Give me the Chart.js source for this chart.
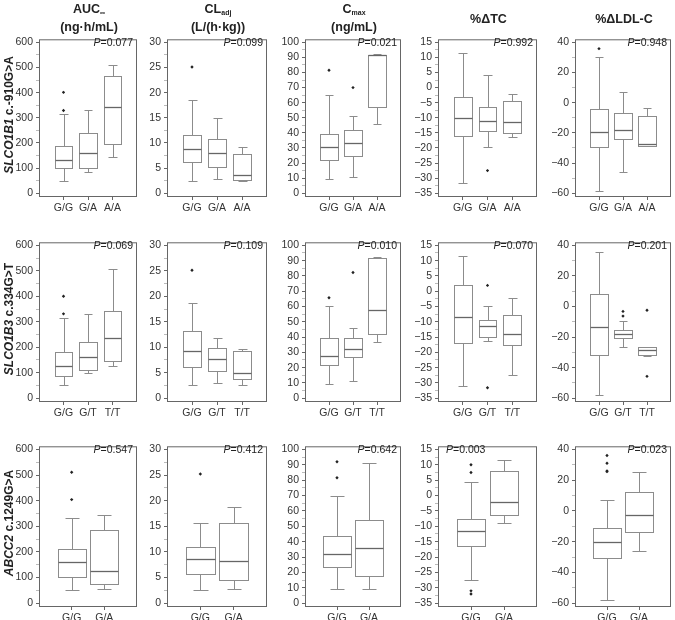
<!DOCTYPE html>
<html>
<head>
<meta charset="utf-8">
<script src="https://cdn.jsdelivr.net/npm/chart.js@4.4.1/dist/chart.umd.min.js"></script>
<style>
  body { margin: 0; background: #fff; font-family: "Liberation Sans", Arial, sans-serif; }
  #wrap { position: relative; width: 675px; height: 620px; overflow: hidden; }
  canvas { position: absolute; }
  .title { position: absolute; font-weight: bold; font-size: 12.5px; line-height: 15px; text-align: center; color: #222; white-space: nowrap; transform: translateX(-50%); }
  .title sub { font-size: 7px; vertical-align: -2px; }
  .rowlab { position: absolute; font-weight: bold; font-size: 12px; color: #222; white-space: nowrap; transform: translate(-50%, -50%) rotate(-90deg); }
  .pval { position: absolute; font-size: 10.5px; color: #222; white-space: nowrap; }
</style>
</head>
<body>
<div id="wrap"></div>
<script>
// categories (genotypes) per row
const catsRow1 = ['G/G', 'G/A', 'A/A'];
const catsRow2 = ['G/G', 'G/T', 'T/T'];
const catsRow3 = ['G/G', 'G/A'];

// tick labels per measure
const aucTicks = [0, 100, 200, 300, 400, 500, 600];
const clTicks = [0, 5, 10, 15, 20, 25, 30];
const cmaxTicks = [0, 10, 20, 30, 40, 50, 60, 70, 80, 90, 100];
const tcTicks = [-35, -30, -25, -20, -15, -10, -5, 0, 5, 10, 15];
const ldlTicks = [-60, -40, -20, 0, 20, 40];

// boxes: [low whisker, Q1, median, Q3, high whisker]
// row 1: SLCO1B1 c.-910G>A
const aucR1 = [[48, 100, 132, 186, 314], [86, 100, 158, 240, 332], [146, 194, 341, 466, 509]];
const aucR1Out = [[329, 401], [], []];
const clR1 = [[2.4, 6.3, 8.7, 11.6, 18.5], [2.85, 5.25, 8.0, 10.8, 15.0], [2.4, 2.7, 3.7, 7.8, 9.1]];
const clR1Out = [[25.1], [], []];
const cmaxR1 = [[9.3, 21.7, 30.9, 39.4, 65.1], [10.7, 24.6, 33.1, 41.9, 51.4], [45.9, 57.1, 91.4, 91.8, 92]];
const cmaxR1Out = [[81.5], [70], []];
const tcR1 = [[-31.7, -15.9, -10.1, -3.2, 11.5], [-19.6, -14.5, -11.1, -6.4, 4.1], [-16.5, -15.2, -11.5, -4.3, -2.0]];
const tcR1Out = [[], [-27.5], []];
const ldlR1 = [[-58.3, -29.5, -19.6, -4.4, 30.5], [-45.7, -24.2, -17.9, -6.7, 7], [-29, -28.4, -27.4, -8.8, -3.2]];
const ldlR1Out = [[35.8], [], []];

// row 2: SLCO1B3 c.334G>T
const aucR2 = [[50, 88, 126, 183, 313], [98, 110, 160, 221, 332], [125, 147, 237, 342, 508]];
const aucR2Out = [[331, 400], [], []];
const clR2 = [[2.5, 6.2, 9.2, 13.1, 18.6], [3.0, 5.4, 7.6, 9.9, 11.9], [2.5, 3.7, 5.0, 9.2, 9.7]];
const clR2Out = [[25.1], [], []];
const cmaxR2 = [[9.5, 21.6, 27.5, 39.2, 60.4], [11, 27.1, 32.4, 39.2, 46.2], [37, 42.2, 57.8, 91.5, 92.5]];
const cmaxR2Out = [[65.7], [82.2], []];
const tcR2 = [[-30.9, -17, -8.6, 1.9, 11.6], [-16.2, -14.9, -11.5, -9.3, -4.7], [-27.5, -17.5, -14, -7.7, -2.1]];
const tcR2Out = [[], [1.9, -31.6], []];
const ldlR2 = [[-57.9, -31.6, -13.3, 8, 35.8], [-26.7, -20.4, -18.3, -15.2, -9.5], [-32.5, -32, -28.4, -26.7, -26.2]];
const ldlR2Out = [[], [-6.3, -3.2], [-2.5, -45.7]];

// row 3: ABCC2 c.1249G>A
const aucR3 = [[51, 103, 159, 211, 334], [57, 76, 126, 287, 343]];
const aucR3Out = [[404, 511], []];
const clR3 = [[2.5, 5.6, 8.6, 11.0, 15.7], [2.85, 4.6, 8.3, 15.6, 18.7]];
const clR3Out = [[25.2], []];
const cmaxR3 = [[9.5, 23.7, 31.8, 43.4, 69.9], [9.5, 17.8, 36, 54, 90.9]];
const cmaxR3Out = [[81.5, 92], []];
const tcR3 = [[-27.5, -16.5, -11.5, -7.6, 4.5], [-8.8, -6.2, -2.2, 7.9, 11.5]];
const tcR3Out = [[10, 7.5, -31, -32], []];
const ldlR3 = [[-57.9, -30.4, -20.2, -11.1, 7.4], [-26.4, -14, -2.5, 12.2, 25]];
const ldlR3Out = [[36, 31, 26, 25.5], []];

// P values
const pRow1 = ['0.077', '0.099', '0.021', '0.992', '0.948'];
const pRow2 = ['0.069', '0.109', '0.010', '0.070', '0.201'];
const pRow3 = ['0.547', '0.412', '0.642', '0.003', '0.023'];

// layout (plot frames, page px)
const colL = [39, 167, 305, 438, 575];
const colR = [139, 269, 403, 539, 673];
const rowT = [32, 235, 439];
const rowB = [197, 402, 607];
const AXW = 36, XAH = 22;

Chart.defaults.font.family = '"Liberation Sans", Arial, sans-serif';
Chart.defaults.color = '#333';

const wrap = document.getElementById('wrap');

function fmt(v) {
  return v < 0 ? '\u2212' + Math.abs(v) : String(v);
}

const boxPlugin = {
  id: 'boxes',
  beforeDatasetsDraw(chart, args, opts) {
    const { ctx, scales: { x, y } } = chart;
    const half = opts.width / 2;
    ctx.save();
    ctx.lineWidth = 1;
    opts.boxes.forEach((b, i) => {
      const cx = x.getPixelForValue(i + 1);
      const x0 = Math.round(x.getPixelForValue(i + 1 - half)) + 0.5;
      const x1 = Math.round(x.getPixelForValue(i + 1 + half)) + 0.5;
      const capL = Math.round(x.getPixelForValue(i + 1 - half / 2)) + 0.5;
      const capR = Math.round(x.getPixelForValue(i + 1 + half / 2)) + 0.5;
      const px = Math.round(cx) + 0.5;
      const py = b.map(v => Math.round(y.getPixelForValue(v)) + 0.5);
      ctx.strokeStyle = '#8c8c8c';
      ctx.beginPath();
      // whiskers
      ctx.moveTo(px, py[0]); ctx.lineTo(px, py[1]);
      ctx.moveTo(px, py[3]); ctx.lineTo(px, py[4]);
      ctx.moveTo(capL, py[0]); ctx.lineTo(capR, py[0]);
      ctx.moveTo(capL, py[4]); ctx.lineTo(capR, py[4]);
      ctx.stroke();
      ctx.fillStyle = '#fff';
      ctx.fillRect(x0, py[3], x1 - x0, py[1] - py[3]);
      ctx.strokeRect(x0, py[3], x1 - x0, py[1] - py[3]);
      ctx.strokeStyle = '#666';
      ctx.lineWidth = 1.3;
      ctx.beginPath();
      ctx.moveTo(x0, py[2]); ctx.lineTo(x1, py[2]);
      ctx.stroke();
      ctx.lineWidth = 1;
    });
    ctx.restore();
  },
  afterDraw(chart) {
    const { ctx, chartArea: a } = chart;
    ctx.save();
    ctx.strokeStyle = '#666';
    ctx.lineWidth = 1;
    ctx.strokeRect(a.left + 0.5, a.top + 0.5, a.right - a.left - 1, a.bottom - a.top - 1);
    ctx.restore();
  }
};

function makePanel(row, col, cats, boxes, outliers, ticks, p, pLeft) {
  const L = colL[col], R = colR[col], T = rowT[row], B = rowB[row];
  const canvas = document.createElement('canvas');
  const w = R - L + AXW + 2, h = B - T + XAH + 2;
  canvas.width = w; canvas.height = h;
  canvas.style.width = w + 'px'; canvas.style.height = h + 'px';
  canvas.style.left = (L - AXW) + 'px';
  canvas.style.top = (T - 2) + 'px';
  wrap.appendChild(canvas);

  const lo = ticks[0], hi = ticks[ticks.length - 1], span = hi - lo;
  const allTicks = [];
  ticks.forEach((t, i) => {
    allTicks.push(t);
    if (i < ticks.length - 1) allTicks.push((t + ticks[i + 1]) / 2);
  });

  const pts = [];
  outliers.forEach((list, i) => list.forEach(v => pts.push({ x: i + 1, y: v })));

  new Chart(canvas, {
    type: 'scatter',
    data: {
      datasets: [{
        data: pts,
        pointStyle: 'rectRot',
        pointRadius: 1.7,
        backgroundColor: '#222',
        borderWidth: 0
      }]
    },
    plugins: [boxPlugin],
    options: {
      responsive: false,
      animation: false,
      events: [],
      layout: { padding: { top: 2, right: 2, left: 0, bottom: 0 } },
      plugins: {
        legend: { display: false },
        tooltip: { enabled: false },
        boxes: { boxes: boxes, width: cats.length === 2 ? 0.86 : 0.72 }
      },
      scales: {
        x: {
          type: 'linear',
          min: 0,
          max: cats.length + 1,
          afterBuildTicks: s => { s.ticks = cats.map((c, i) => ({ value: i + 1 })); },
          afterFit: s => { s.height = XAH; },
          border: { display: false },
          grid: { drawOnChartArea: false, tickLength: 3, tickColor: '#666' },
          ticks: {
            autoSkip: false, maxRotation: 0, padding: 2,
            font: { size: 10.5 }, color: '#333',
            callback: (v, i) => cats[i]
          }
        },
        y: {
          min: lo - 0.025 * span,
          max: hi + 0.02 * span,
          afterBuildTicks: s => { s.ticks = allTicks.map(v => ({ value: v })); },
          afterFit: s => { s.width = AXW; },
          border: { display: false },
          grid: {
            drawOnChartArea: false, tickLength: 3,
            tickColor: c => ticks.includes(c.tick.value) ? '#666' : '#bbb'
          },
          ticks: {
            autoSkip: false, padding: 3,
            font: { size: 10.5 }, color: '#333',
            callback: v => ticks.includes(v) ? fmt(v) : ''
          }
        }
      }
    }
  });

  const pl = document.createElement('div');
  pl.className = 'pval';
  pl.innerHTML = '<i>P</i>=' + p;
  pl.style.top = (T + 4) + 'px';
  if (pLeft) pl.style.left = (L + 8) + 'px';
  else pl.style.right = (675 - R + 6) + 'px';
  wrap.appendChild(pl);
}

makePanel(0, 0, catsRow1, aucR1, aucR1Out, aucTicks, pRow1[0]);
makePanel(0, 1, catsRow1, clR1, clR1Out, clTicks, pRow1[1]);
makePanel(0, 2, catsRow1, cmaxR1, cmaxR1Out, cmaxTicks, pRow1[2]);
makePanel(0, 3, catsRow1, tcR1, tcR1Out, tcTicks, pRow1[3]);
makePanel(0, 4, catsRow1, ldlR1, ldlR1Out, ldlTicks, pRow1[4]);

makePanel(1, 0, catsRow2, aucR2, aucR2Out, aucTicks, pRow2[0]);
makePanel(1, 1, catsRow2, clR2, clR2Out, clTicks, pRow2[1]);
makePanel(1, 2, catsRow2, cmaxR2, cmaxR2Out, cmaxTicks, pRow2[2]);
makePanel(1, 3, catsRow2, tcR2, tcR2Out, tcTicks, pRow2[3]);
makePanel(1, 4, catsRow2, ldlR2, ldlR2Out, ldlTicks, pRow2[4]);

makePanel(2, 0, catsRow3, aucR3, aucR3Out, aucTicks, pRow3[0]);
makePanel(2, 1, catsRow3, clR3, clR3Out, clTicks, pRow3[1]);
makePanel(2, 2, catsRow3, cmaxR3, cmaxR3Out, cmaxTicks, pRow3[2]);
makePanel(2, 3, catsRow3, tcR3, tcR3Out, tcTicks, pRow3[3], true);
makePanel(2, 4, catsRow3, ldlR3, ldlR3Out, ldlTicks, pRow3[4]);

// column titles
const titles = [
  'AUC<sub>\u221E</sub><br>(ng\u00B7h/mL)',
  'CL<sub>adj</sub><br>(L/(h\u00B7kg))',
  'C<sub>max</sub><br>(ng/mL)',
  '%\u0394TC',
  '%\u0394LDL-C'
];
titles.forEach((t, i) => {
  const d = document.createElement('div');
  d.className = 'title';
  d.innerHTML = t;
  d.style.left = ((colL[i] + colR[i]) / 2) + 'px';
  d.style.top = (i < 3 ? 2 : 12) + 'px';
  wrap.appendChild(d);
});

// row labels
const rowLabels = [
  '<i>SLCO1B1</i> c.-910G&gt;A',
  '<i>SLCO1B3</i> c.334G&gt;T',
  '<i>ABCC2</i> c.1249G&gt;A'
];
rowLabels.forEach((t, i) => {
  const d = document.createElement('div');
  d.className = 'rowlab';
  d.innerHTML = t;
  d.style.left = '9px';
  d.style.top = ((rowT[i] + rowB[i]) / 2) + 'px';
  wrap.appendChild(d);
});
</script>
</body>
</html>
